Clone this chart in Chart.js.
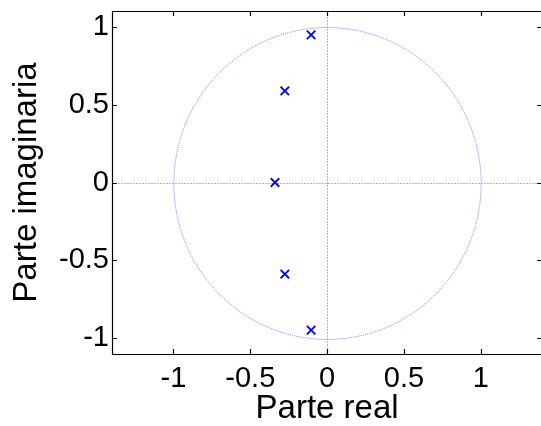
<!DOCTYPE html>
<html>
<head>
<meta charset="utf-8">
<script src="https://cdn.jsdelivr.net/npm/chart.js@4.4.1/dist/chart.umd.min.js"></script>
<style>
html,body{margin:0;padding:0;background:#fff;overflow:hidden;}
#wrap{width:550px;height:426px;}
</style>
</head>
<body>
<div id="wrap"><canvas id="c" width="550" height="426"></canvas></div>
<script>
// Pole locations (real / imaginary parts)
const poleReal = [-0.104, -0.275, -0.339, -0.275, -0.104];
const poleImag = [0.947, 0.587, 0.0, -0.587, -0.947];
const xTicks = [-1, -0.5, 0, 0.5, 1];
const yTicks = [-1, -0.5, 0, 0.5, 1];
const xRange = [-1.4, 1.4];
const yRange = [-1.1, 1.1];
const unitRadius = 1;
const xTitle = 'Parte real';
const yTitle = 'Parte imaginaria';

const FONT = '"Liberation Sans", Arial, Helvetica, sans-serif';
const guideColor = 'rgb(120,120,255)';
const axisLineColor = 'rgb(175,175,255)';

const decor = {
  id: 'decor',
  beforeDatasetsDraw(chart) {
    const {ctx, chartArea: a, scales: {x, y}} = chart;
    ctx.save();
    ctx.beginPath();
    ctx.rect(a.left, a.top, a.right - a.left, a.bottom - a.top);
    ctx.clip();
    ctx.lineWidth = 1;
    const x0 = Math.round(x.getPixelForValue(0)), y0 = Math.round(y.getPixelForValue(0));
    ctx.strokeStyle = axisLineColor;
    ctx.setLineDash([2, 1]);
    ctx.beginPath();
    ctx.moveTo(a.left, y0 + 0.5); ctx.lineTo(a.right, y0 + 0.5);
    ctx.stroke();
    ctx.beginPath();
    ctx.moveTo(x0 + 0.5, a.top); ctx.lineTo(x0 + 0.5, a.bottom);
    ctx.stroke();
    ctx.strokeStyle = guideColor;
    ctx.setLineDash([1, 1]);
    const rx = x.getPixelForValue(unitRadius) - x.getPixelForValue(0);
    const ry = y.getPixelForValue(0) - y.getPixelForValue(unitRadius);
    ctx.beginPath();
    ctx.ellipse(x0 + 0.5, y0 + 0.5, rx, ry, 0, 0, Math.PI * 2);
    ctx.stroke();
    ctx.restore();
  },
  afterDatasetsDraw(chart) {
    const {ctx, chartArea: a, scales: {x, y}} = chart;
    ctx.save();
    ctx.strokeStyle = '#000';
    ctx.lineWidth = 1.2;
    ctx.setLineDash([]);
    ctx.beginPath();
    ctx.moveTo(a.right + 5, a.top + 0.5);
    ctx.lineTo(a.left + 0.5, a.top + 0.5);
    ctx.lineTo(a.left + 0.5, a.bottom + 0.5);
    ctx.lineTo(a.right + 5, a.bottom + 0.5);
    const tl = 5;
    xTicks.forEach(v => {
      const px = Math.round(x.getPixelForValue(v)) + 0.5;
      ctx.moveTo(px, a.bottom); ctx.lineTo(px, a.bottom - tl);
      ctx.moveTo(px, a.top); ctx.lineTo(px, a.top + tl);
    });
    yTicks.forEach(v => {
      const py = Math.round(y.getPixelForValue(v)) + 0.5;
      ctx.moveTo(a.left, py); ctx.lineTo(a.left + tl, py);
      ctx.moveTo(a.right, py); ctx.lineTo(a.right - tl, py);
    });
    ctx.stroke();
    ctx.restore();
  }
};

new Chart(document.getElementById('c'), {
  type: 'scatter',
  data: {
    datasets: [{
      data: poleReal.map((r, i) => ({x: r, y: poleImag[i]})),
      pointStyle: 'crossRot',
      pointRadius: 6,
      pointHoverRadius: 6,
      borderColor: 'rgb(0,0,255)',
      backgroundColor: 'rgb(0,0,255)',
      pointBorderWidth: 1.8,
      showLine: false
    }]
  },
  options: {
    responsive: false,
    animation: false,
    events: [],
    layout: {padding: {top: 11, right: 0, left: 0, bottom: 0}},
    plugins: {legend: {display: false}, tooltip: {enabled: false}},
    scales: {
      x: {
        type: 'linear',
        min: xRange[0], max: xRange[1],
        afterBuildTicks: s => { s.ticks = xTicks.map(v => ({value: v})); },
        afterFit: s => { s.height = 72; s.paddingLeft = 0; s.paddingRight = 0; },
        grid: {display: false, drawTicks: false},
        border: {display: false},
        ticks: {
          color: '#000', padding: 8, maxRotation: 0, autoSkip: false,
          font: {family: FONT, size: 29},
          callback: v => String(v)
        },
        title: {display: true, text: xTitle, color: '#000',
          font: {family: FONT, size: 33, lineHeight: 1}, padding: {top: 0, bottom: 1}}
      },
      y: {
        type: 'linear',
        min: yRange[0], max: yRange[1],
        afterBuildTicks: s => { s.ticks = yTicks.map(v => ({value: v})); },
        afterFit: s => { s.width = 112; s.paddingTop = 0; s.paddingBottom = 0; },
        grid: {display: false, drawTicks: false},
        border: {display: false},
        ticks: {
          color: '#000', padding: 3, autoSkip: false,
          font: {family: FONT, size: 29},
          callback: v => String(v)
        },
        title: {display: true, text: yTitle, color: '#000',
          font: {family: FONT, size: 33, lineHeight: 1}, padding: {top: 10, bottom: 0}}
      }
    }
  },
  plugins: [decor]
});
</script>
</body>
</html>
